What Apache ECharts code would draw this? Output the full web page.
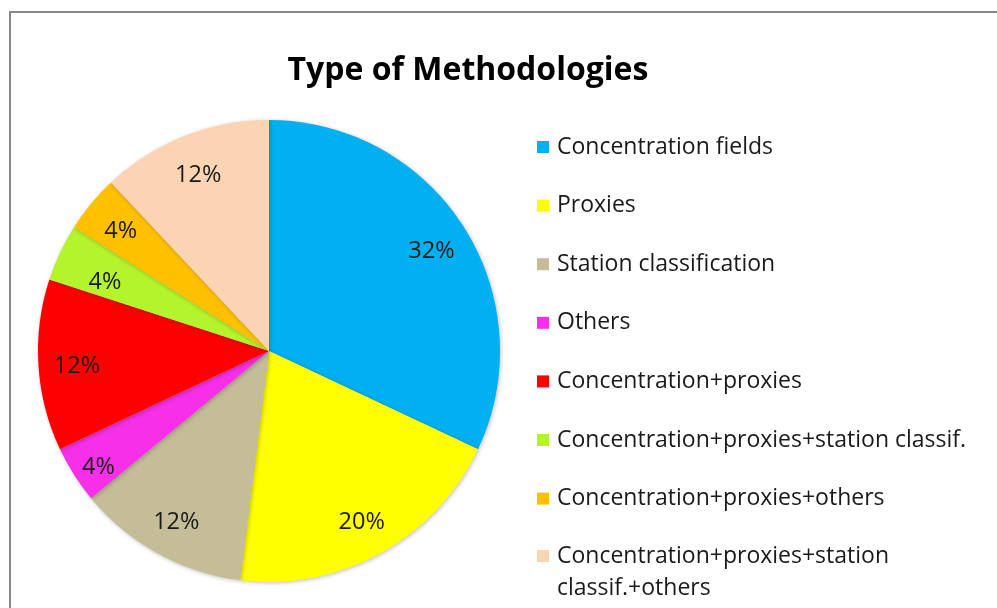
<!DOCTYPE html>
<html><head><meta charset="utf-8">
<script src="https://cdn.jsdelivr.net/npm/echarts@6/dist/echarts.min.js"></script>
<style>html,body{margin:0;padding:0;background:#fff}#c{width:997px;height:608px}</style>
</head><body><div id="c"></div>
<script>
const categories = ["Concentration fields","Proxies","Station classification","Others","Concentration+proxies","Concentration+proxies+station classif.","Concentration+proxies+others","Concentration+proxies+station classif.+others"];
const values = [32,20,12,4,12,4,4,12];
const colors = ["#00B0F0","#FFFF00","#C4BD97","#F72FE8","#FF0000","#B4F42C","#FFC000","#FBD4B4"];
const title = "Type of Methodologies";

const data = categories.map((n,i)=>({name:n,value:values[i],itemStyle:{color:colors[i]}}));
const R = 231, cx = 269, cy = 351;
const font = "'Open Sans', 'Liberation Sans', sans-serif";
// small label nudges to mimic the original label placement
const nudge = {3:[-8,13],5:[10,13]};
const chart = echarts.init(document.getElementById('c'));
chart.setOption({
  animation:false,
  title:{text:title,left:463,top:50,textAlign:'center',textStyle:{fontFamily:font,fontSize:32,fontWeight:'bold',color:'#000'}},
  graphic:[{type:'rect',shape:{x:10,y:12,width:1010,height:620},style:{fill:'none',stroke:'#878787',lineWidth:2},z:-1}],
  legend:[{
    orient:'vertical',left:537,top:134,padding:0,itemGap:32.6,itemWidth:12,itemHeight:12,icon:'rect',itemStyle:{borderWidth:0},
    data:categories.slice(0,7),
    textStyle:{fontFamily:font,fontSize:23,lineHeight:26,color:'#1a1a1a',padding:[0,0,0,3]}
  },{
    orient:'vertical',left:537,top:508,padding:0,itemWidth:12,itemHeight:12,icon:'rect',itemStyle:{borderWidth:0},
    data:[categories[7]],
    formatter:n=>'\n'+n.replace('station classif.','station\nclassif.'),
    textStyle:{fontFamily:font,fontSize:23,lineHeight:32,color:'#1a1a1a',padding:[0,0,0,3]}
  }],
  series:[{
    type:'pie',center:[cx,cy],radius:[0,R],startAngle:90,clockwise:true,
    label:{show:false},labelLine:{show:false},silent:true,
    itemStyle:{borderWidth:0,shadowBlur:4,shadowColor:'rgba(0,0,0,0.25)',shadowOffsetX:1,shadowOffsetY:1},
    data:data
  },{
    type:'pie',center:[cx,cy],radius:[R*0.64,R],startAngle:90,clockwise:true,silent:true,
    itemStyle:{color:'rgba(0,0,0,0)'},
    label:{show:true,position:'inside',formatter:p=>p.value+'%',fontFamily:font,fontSize:23.5,color:'#1a1a1a',offset:[0,3]},
    labelLine:{show:false},
    data:categories.map((n,i)=>{
      const d={name:n,value:values[i],itemStyle:{color:'rgba(0,0,0,0)'}};
      if(nudge[i]) d.label={offset:nudge[i]};
      return d;
    })
  }]
});
</script></body></html>
